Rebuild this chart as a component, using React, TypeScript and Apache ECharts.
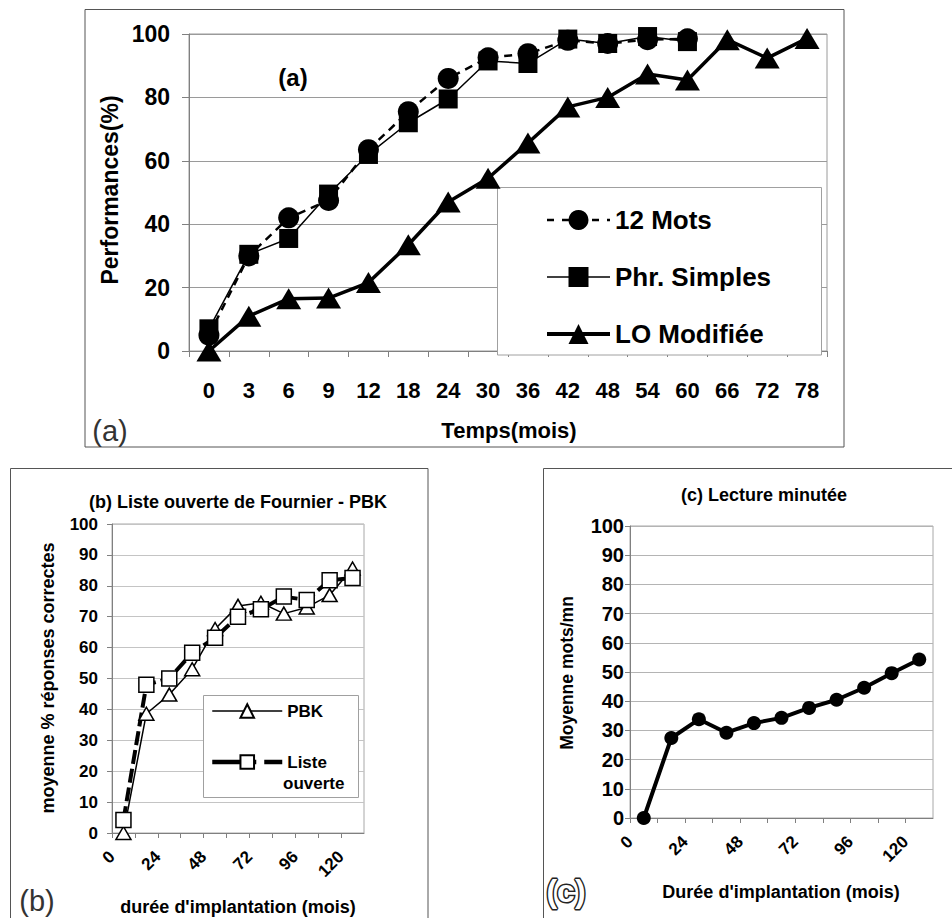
import React, { useEffect, useRef } from 'react';
import * as echarts from 'echarts';

// ---------- Panel (a) ----------
const monthsA = ['0', '3', '6', '9', '12', '18', '24', '30', '36', '42', '48', '54', '60', '66', '72', '78'];
const mots12 = [5, 30, 42, 47.5, 63.5, 75.5, 86, 92.5, 93.8, 98, 97, 98.2, 98.5, null, null, null];
const phrSimples = [7, 30.5, 35.5, 49.5, 62, 72, 79.5, 91.5, 90.7, 98.4, 97, 99.2, 97.6, null, null, null];
const loModifiee = [0, 11, 16.5, 16.7, 21.6, 33.5, 47, 54.5, 65.6, 77, 80, 87.4, 85.5, 98.2, 92.4, 98.6];

// ---------- Panels (b) and (c) ----------
const monthsBC = [6, 18, 30, 42, 54, 66, 78, 90, 102, 114, 126];
const pbk = [0, 38.6, 44.8, 53, 66, 73.5, 74.5, 71, 73, 77, 85.6];
const listeOuverte = [4.2, 48, 50, 58.3, 63.2, 70, 72.4, 76.5, 75.4, 81.8, 82.5];
const lecture = [0, 27.4, 33.8, 29.2, 32.5, 34.3, 37.7, 40.5, 44.6, 49.6, 54.3];

const FF = '"Liberation Sans", Arial, Helvetica, sans-serif';
const AXIS = '#808080';

const pair = (xs: number[], ys: number[]) => xs.map((x, i) => [x, ys[i]]);

export default function App() {
  const ref = useRef<HTMLDivElement>(null);
  useEffect(() => {
    if (!ref.current) return;
    const chart = echarts.init(ref.current, undefined, { renderer: 'svg' });

    const valueX = (gridIndex: number, fs: number) => ({
      gridIndex,
      type: 'value',
      min: 0,
      max: 132,
      interval: 12,
      splitLine: { show: false },
      axisLine: { show: true, lineStyle: { color: AXIS, width: 1 } },
      axisTick: { show: true, length: 5, lineStyle: { color: AXIS } },
      axisLabel: {
        rotate: 45,
        margin: 21,
        fontSize: fs,
        fontWeight: 'bold',
        fontFamily: FF,
        color: '#000',
        showMaxLabel: false,
        formatter: (v: number) => (v % 24 === 0 ? String(v) : ''),
      },
    });
    const valueY = (gridIndex: number, fs: number, margin: number, grid: string) => ({
      gridIndex,
      type: 'value',
      min: 0,
      max: 100,
      interval: 10,
      axisLine: { show: true, lineStyle: { color: AXIS } },
      axisTick: { show: true, length: 5, lineStyle: { color: AXIS } },
      splitLine: { show: true, lineStyle: { color: grid, width: 1 } },
      axisLabel: { fontSize: fs, fontWeight: 'bold', fontFamily: FF, color: '#000', margin },
    });

    const txt = (text: string, x: number, y: number, fs: number, extra: any = {}) => ({
      type: 'text',
      x,
      y,
      rotation: extra.rotation || 0,
      z: 10,
      style: {
        text,
        fontSize: fs,
        fontWeight: extra.weight || 'bold',
        fontFamily: FF,
        fill: extra.fill || '#000',
        stroke: extra.stroke,
        lineWidth: extra.lineWidth,
        align: extra.align || 'center',
        verticalAlign: 'middle',
      },
    });

    const option: any = {
      animation: false,
      backgroundColor: '#fff',
      textStyle: { fontFamily: FF },
      grid: [
        { left: 189, top: 34, width: 638, height: 317, show: true, borderColor: '#9a9a9a', borderWidth: 1 },
        { left: 112, top: 524, width: 252, height: 309, show: true, borderColor: '#a8a8a8', borderWidth: 1 },
        { left: 630, top: 526, width: 303, height: 292, show: true, borderColor: '#a8a8a8', borderWidth: 1 },
      ],
      xAxis: [
        {
          gridIndex: 0,
          type: 'category',
          data: monthsA,
          boundaryGap: true,
          axisLine: { show: true, lineStyle: { color: AXIS } },
          axisTick: { show: true, length: 6, lineStyle: { color: AXIS } },
          axisLabel: { interval: 0, fontSize: 22, fontWeight: 'bold', fontFamily: FF, color: '#000', margin: 28 },
        },
        valueX(1, 17),
        valueX(2, 17),
      ],
      yAxis: [
        {
          gridIndex: 0,
          type: 'value',
          min: 0,
          max: 100,
          interval: 20,
          axisLine: { show: true, lineStyle: { color: AXIS } },
          axisTick: { show: true, length: 7, lineStyle: { color: AXIS } },
          splitLine: { show: true, lineStyle: { color: '#9a9a9a', width: 1 } },
          axisLabel: { fontSize: 23, fontWeight: 'bold', fontFamily: FF, color: '#000', margin: 19 },
        },
        valueY(1, 17, 14, '#c4c4c4'),
        valueY(2, 20, 6, '#b4b4b4'),
      ],
      legend: [
        {
          orient: 'vertical',
          left: 545,
          top: 207,
          padding: 0,
          itemWidth: 63,
          itemHeight: 25,
          itemGap: 31,
          itemTextGap: 10,
          selectedMode: false,
          z: 6,
          textStyle: { fontSize: 26, fontWeight: 'bold', fontFamily: FF, color: '#000', lineHeight: 25 },
          data: [
            { name: '12 Mots', lineStyle: { width: 2.5, type: [7, 8] } },
            { name: 'Phr. Simples', lineStyle: { width: 1.5 } },
            { name: 'LO Modifiée', lineStyle: { width: 4 } },
          ],
        },
        {
          orient: 'vertical',
          left: 210,
          top: 702,
          padding: 0,
          itemWidth: 70,
          itemHeight: 17,
          itemGap: 33,
          itemTextGap: 3,
          selectedMode: false,
          z: 6,
          textStyle: { fontSize: 17, fontWeight: 'bold', fontFamily: FF, color: '#000', lineHeight: 18 },
          formatter: (name: string) => (name === 'Liste ouverte' ? 'Liste' : name),
          data: [
            { name: 'PBK', lineStyle: { width: 1.5 } },
            { name: 'Liste ouverte', lineStyle: { width: 4.5, type: [44, 8] } },
          ],
        },
      ],
      series: [
        {
          name: '12 Mots',
          type: 'line',
          xAxisIndex: 0,
          yAxisIndex: 0,
          data: mots12,
          symbol: 'circle',
          symbolSize: 21,
          itemStyle: { color: '#000' },
          lineStyle: { color: '#000', width: 2.5, type: [8, 6] },
        },
        {
          name: 'Phr. Simples',
          type: 'line',
          xAxisIndex: 0,
          yAxisIndex: 0,
          data: phrSimples,
          symbol: 'rect',
          symbolSize: 19,
          itemStyle: { color: '#000' },
          lineStyle: { color: '#000', width: 1.5 },
        },
        {
          name: 'LO Modifiée',
          type: 'line',
          xAxisIndex: 0,
          yAxisIndex: 0,
          data: loModifiee,
          symbol: 'triangle',
          symbolSize: [25, 21],
          itemStyle: { color: '#000' },
          lineStyle: { color: '#000', width: 3.5 },
        },
        {
          name: 'PBK',
          type: 'line',
          xAxisIndex: 1,
          yAxisIndex: 1,
          data: pair(monthsBC, pbk),
          symbol: 'triangle',
          symbolSize: [15, 13],
          itemStyle: { color: '#fff', borderColor: '#000', borderWidth: 1.5 },
          lineStyle: { color: '#000', width: 1.5 },
        },
        {
          name: 'Liste ouverte',
          type: 'line',
          xAxisIndex: 1,
          yAxisIndex: 1,
          data: pair(monthsBC, listeOuverte),
          symbol: 'rect',
          symbolSize: 15,
          itemStyle: { color: '#fff', borderColor: '#000', borderWidth: 1.5 },
          lineStyle: { color: '#000', width: 4, type: [14, 5] },
        },
        {
          name: 'Lecture minutée',
          type: 'line',
          xAxisIndex: 2,
          yAxisIndex: 2,
          data: pair(monthsBC, lecture),
          symbol: 'circle',
          symbolSize: 14,
          itemStyle: { color: '#000' },
          lineStyle: { color: '#000', width: 4 },
        },
      ],
      graphic: [
        // panel frames
        { type: 'rect', z: 0, shape: { x: 85, y: 9.5, width: 759, height: 437.5 }, style: { fill: 'none', stroke: '#555', lineWidth: 1 } },
        { type: 'rect', z: 0, shape: { x: 10.5, y: 468.5, width: 417.5, height: 480 }, style: { fill: 'none', stroke: '#555', lineWidth: 1 } },
        { type: 'rect', z: 0, shape: { x: 543.5, y: 468.5, width: 430, height: 480 }, style: { fill: 'none', stroke: '#555', lineWidth: 1 } },
        // legend boxes
        { type: 'rect', z: 3, shape: { x: 497.5, y: 187.5, width: 324, height: 167.5 }, style: { fill: '#fff', stroke: '#a0a0a0', lineWidth: 1 } },
        { type: 'rect', z: 3, shape: { x: 203.5, y: 695.5, width: 155, height: 102 }, style: { fill: '#fff', stroke: '#a0a0a0', lineWidth: 1 } },
        // texts panel (a)
        txt('(a)', 293, 77, 24),
        txt('Performances(%)', 110, 190, 23, { rotation: Math.PI / 2 }),
        txt('Temps(mois)', 509, 430, 22),
        txt('(a)', 110, 431, 29, { weight: 'normal', fill: '#333' }),
        // panel (b)
        txt('(b) Liste ouverte de Fournier - PBK', 238, 502, 18),
        txt('moyenne % réponses correctes', 48, 678, 18, { rotation: Math.PI / 2 }),
        txt('durée d\'implantation (mois)', 238, 907, 18),
        txt('(b)', 37, 901, 29, { weight: 'normal', fill: '#333' }),
        txt('ouverte', 283, 783, 17, { align: 'left' }),
        // panel (c)
        txt('(c) Lecture minutée', 764, 495, 18),
        txt('Moyenne mots/mn', 567, 673, 17.5, { rotation: Math.PI / 2 }),
        txt('Durée d\'implantation (mois)', 781, 892, 18),
        txt('(c)', 566, 891, 32, { weight: 'bold', fill: '#fff', stroke: '#222', lineWidth: 3 }),
      ],
    };

    chart.setOption(option);
    return () => chart.dispose();
  }, []);

  return (
    <div
      ref={ref}
      style={{ position: 'fixed', left: 0, top: 0, width: 952, height: 918, background: '#fff' }}
    />
  );
}
